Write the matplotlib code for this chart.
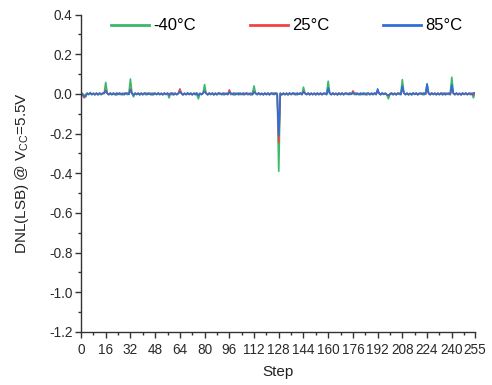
import matplotlib
matplotlib.use("Agg")
import matplotlib.pyplot as plt
import numpy as np
from matplotlib.ticker import MultipleLocator, FixedLocator

plt.rcParams['font.family'] = ['Liberation Sans', 'DejaVu Sans']

steps = list(range(256))

# DNL (LSB) at -40 C
dnl_m40 = [
    0.006, 0.002, -0.006, -0.004, 0.004, -0.003, 0.007, -0.005, 0.002, -0.004, 0.005, -0.006, 0.003, -0.004, 0.002, 0.003,
    0.058, 0.004, -0.005, 0.003, -0.004, 0.005, -0.002, -0.006, 0.004, -0.003, 0.002, -0.005, 0.004, 0.003, -0.004, 0.004,
    0.075, 0.003, -0.015, 0.004, -0.003, 0.002, -0.006, 0.005, -0.004, 0.003, -0.005, 0.004, -0.002, 0.003, -0.006, 0.004,
    0.003, -0.004, 0.005, -0.003, 0.002, -0.005, 0.004, -0.003, 0.003, -0.020, 0.002, 0.004, -0.005, 0.003, -0.004, 0.002,
    0.010, 0.003, -0.006, 0.004, -0.003, 0.005, -0.004, 0.002, -0.005, 0.003, 0.004, -0.004, -0.025, 0.003, -0.003, 0.004,
    0.047, 0.002, -0.005, 0.004, -0.003, 0.003, -0.006, 0.004, -0.004, 0.005, -0.003, 0.002, -0.005, 0.004, -0.002, 0.003,
    0.006, -0.004, 0.003, -0.006, 0.004, -0.003, 0.005, -0.004, 0.002, -0.005, 0.003, 0.004, -0.003, 0.002, -0.006, 0.004,
    0.040, 0.003, -0.004, 0.005, -0.003, 0.002, -0.005, 0.004, -0.004, 0.003, -0.006, 0.004, -0.003, 0.005, -0.002, 0.003,
    -0.390, 0.003, -0.005, 0.004, -0.003, 0.002, -0.006, 0.004, -0.003, 0.005, -0.004, 0.003, -0.005, 0.002, 0.004, -0.003,
    0.034, 0.002, -0.004, 0.003, -0.005, 0.004, -0.003, 0.002, -0.006, 0.004, -0.003, 0.005, -0.004, 0.003, -0.002, 0.004,
    0.064, 0.003, -0.005, 0.004, -0.003, 0.002, -0.006, 0.005, -0.004, 0.003, -0.005, 0.004, -0.002, 0.003, -0.004, 0.002,
    0.003, -0.004, 0.005, -0.003, 0.002, -0.005, 0.004, -0.004, 0.003, -0.006, 0.004, -0.003, 0.002, -0.005, 0.004, 0.003,
    0.015, 0.002, -0.005, 0.004, -0.003, 0.003, -0.006, -0.025, 0.002, 0.004, -0.004, 0.003, -0.005, 0.004, -0.003, 0.002,
    0.072, 0.004, -0.005, 0.003, -0.004, 0.002, -0.006, 0.004, -0.003, 0.005, -0.004, 0.003, -0.002, 0.004, -0.005, 0.003,
    0.050, 0.003, -0.004, 0.005, -0.003, 0.002, -0.005, 0.004, -0.003, 0.003, -0.006, 0.004, -0.004, 0.002, -0.003, 0.004,
    0.084, 0.004, -0.005, 0.003, -0.004, 0.002, -0.006, 0.004, -0.003, 0.005, -0.004, 0.003, -0.002, 0.004, -0.020, 0.005,
]

# DNL (LSB) at 25 C
dnl_25 = [
    0.003, -0.006, -0.020, -0.008, 0.003, -0.002, 0.004, -0.003, 0.002, -0.004, 0.003, -0.002, 0.004, -0.003, 0.002, 0.003,
    0.020, 0.002, -0.003, 0.004, -0.002, 0.003, -0.004, 0.002, -0.003, 0.004, -0.002, 0.003, -0.004, 0.002, 0.003, -0.002,
    0.025, 0.003, -0.004, 0.002, -0.003, 0.004, -0.002, 0.003, -0.004, 0.002, 0.003, -0.003, 0.004, -0.002, 0.003, -0.004,
    0.002, -0.003, 0.004, -0.002, 0.003, -0.004, 0.002, -0.003, 0.004, -0.002, 0.003, -0.004, 0.002, 0.003, -0.003, 0.002,
    0.025, 0.004, -0.003, 0.002, -0.004, 0.003, -0.002, 0.004, -0.003, 0.002, -0.004, 0.003, -0.006, 0.002, -0.003, 0.004,
    0.015, 0.003, -0.004, 0.002, -0.003, 0.004, -0.002, 0.003, -0.004, 0.002, 0.003, -0.003, 0.004, -0.002, 0.003, -0.004,
    0.020, 0.002, -0.003, 0.004, -0.002, 0.003, -0.004, 0.002, -0.003, 0.004, -0.002, 0.003, -0.004, 0.002, 0.003, -0.003,
    0.012, 0.004, -0.002, 0.003, -0.004, 0.002, -0.003, 0.004, -0.002, 0.003, -0.004, 0.002, 0.003, -0.003, 0.004, -0.002,
    -0.245, 0.003, -0.004, 0.002, -0.003, 0.004, -0.002, 0.003, -0.004, 0.002, 0.003, -0.003, 0.004, -0.002, 0.003, -0.004,
    0.012, 0.002, -0.003, 0.004, -0.002, 0.003, -0.004, 0.002, -0.003, 0.004, -0.002, 0.003, -0.004, 0.002, 0.003, -0.003,
    0.020, 0.004, -0.002, 0.003, -0.004, 0.002, -0.003, 0.004, -0.002, 0.003, -0.004, 0.002, 0.003, -0.003, 0.004, -0.002,
    0.015, 0.003, -0.004, 0.002, -0.003, 0.004, -0.002, 0.003, -0.004, 0.002, 0.003, -0.003, 0.004, -0.002, 0.003, -0.004,
    0.012, 0.002, -0.003, 0.004, -0.002, 0.003, -0.004, -0.008, -0.003, 0.004, -0.002, 0.003, -0.004, 0.002, 0.003, -0.003,
    0.030, 0.004, -0.002, 0.003, -0.004, 0.002, -0.003, 0.004, -0.002, 0.003, -0.004, 0.002, 0.003, -0.003, 0.004, -0.002,
    0.025, 0.003, -0.004, 0.002, -0.003, 0.004, -0.002, 0.003, -0.004, 0.002, 0.003, -0.003, 0.004, -0.002, 0.003, -0.004,
    0.030, 0.002, -0.003, 0.004, -0.002, 0.003, -0.004, 0.002, -0.003, 0.004, -0.002, 0.003, -0.004, 0.002, -0.006, 0.004,
]

# DNL (LSB) at 85 C
dnl_85 = [
    0.002, -0.004, -0.012, -0.015, 0.002, -0.003, 0.004, -0.002, 0.003, -0.004, 0.002, -0.003, 0.003, -0.002, 0.004, 0.002,
    0.015, 0.003, -0.002, 0.003, -0.004, 0.002, -0.003, 0.004, -0.002, 0.003, -0.004, 0.002, -0.003, 0.004, 0.002, -0.003,
    0.020, 0.002, -0.006, 0.003, -0.002, 0.003, -0.004, 0.002, -0.003, 0.004, 0.002, -0.003, 0.003, -0.004, 0.002, -0.003,
    0.003, -0.002, 0.003, -0.004, 0.002, -0.003, 0.004, -0.002, 0.003, -0.006, 0.002, 0.003, -0.004, 0.002, -0.003, 0.003,
    0.012, 0.003, -0.004, 0.002, -0.003, 0.004, -0.002, 0.003, -0.004, 0.002, -0.003, 0.004, -0.008, 0.002, -0.003, 0.003,
    0.012, 0.002, -0.003, 0.004, -0.002, 0.003, -0.004, 0.002, -0.003, 0.004, 0.002, -0.003, 0.003, -0.004, 0.002, -0.003,
    0.008, 0.003, -0.002, 0.003, -0.004, 0.002, -0.003, 0.004, -0.002, 0.003, -0.004, 0.002, 0.003, -0.003, 0.002, -0.004,
    0.010, 0.002, -0.003, 0.004, -0.002, 0.003, -0.004, 0.002, -0.003, 0.004, -0.002, 0.003, 0.002, -0.003, 0.004, -0.002,
    -0.210, 0.002, -0.003, 0.003, -0.004, 0.002, -0.003, 0.004, -0.002, 0.003, 0.002, -0.004, 0.003, -0.002, 0.004, -0.003,
    0.010, 0.003, -0.002, 0.003, -0.004, 0.002, -0.003, 0.004, -0.002, 0.003, -0.004, 0.002, -0.003, 0.003, 0.002, -0.004,
    0.030, 0.002, -0.003, 0.004, -0.002, 0.003, -0.004, 0.002, -0.003, 0.004, -0.002, 0.003, 0.002, -0.003, 0.004, -0.002,
    0.005, 0.003, -0.002, 0.003, -0.004, 0.002, -0.003, 0.004, -0.002, 0.003, 0.002, -0.004, 0.003, -0.002, 0.004, -0.003,
    0.025, 0.002, -0.003, 0.004, -0.002, 0.003, -0.004, -0.006, -0.002, 0.003, -0.004, 0.002, -0.003, 0.003, 0.002, -0.004,
    0.040, 0.003, -0.002, 0.003, -0.004, 0.002, -0.003, 0.004, -0.002, 0.003, -0.004, 0.002, 0.003, -0.003, 0.004, -0.002,
    0.050, 0.002, -0.003, 0.004, -0.002, 0.003, -0.004, 0.002, -0.003, 0.004, -0.002, 0.003, -0.004, 0.002, 0.003, -0.003,
    0.045, 0.003, -0.002, 0.003, -0.004, 0.002, -0.003, 0.004, -0.002, 0.003, -0.004, 0.002, 0.003, -0.003, 0.005, 0.004,
]

labels = ['-40\u00b0C', '25\u00b0C', '85\u00b0C']
colors = ['#3cb86a', '#f04444', '#2f6fd8']
xtick_vals = [0, 16, 32, 48, 64, 80, 96, 112, 128, 144, 160, 176, 192, 208, 224, 240, 255]
ytick_vals = [-1.2, -1.0, -0.8, -0.6, -0.4, -0.2, 0.0, 0.2, 0.4]

fig = plt.figure(figsize=(4.92, 3.85), dpi=100)
ax = fig.add_axes([0.1646, 0.1377, 0.9654 - 0.1646, 0.9623 - 0.1377])

lines = []
for data, lab, col in zip([dnl_m40, dnl_25, dnl_85], labels, colors):
    ln, = ax.plot(steps, data, color=col, lw=1.2, label=lab)
    lines.append(ln)

ax.set_xlim(0, 255)
ax.set_ylim(-1.2, 0.4)
ax.xaxis.set_major_locator(FixedLocator(xtick_vals))
ax.set_xticklabels([str(v) for v in xtick_vals])
ax.xaxis.set_minor_locator(FixedLocator(list(range(8, 255, 16))))
ax.yaxis.set_major_locator(FixedLocator(ytick_vals))
ax.set_yticklabels([f'{v:.1f}' for v in ytick_vals])
ax.yaxis.set_minor_locator(MultipleLocator(0.1))

for s in ['top', 'right']:
    ax.spines[s].set_visible(False)
for s in ['left', 'bottom']:
    ax.spines[s].set_color('#333333')
    ax.spines[s].set_linewidth(1.0)

ax.tick_params(axis='both', which='major', direction='out', length=4, width=1.0,
               color='#333333', labelsize=9.8, labelcolor='#2a2a2a')
ax.tick_params(axis='x', which='major', pad=4)
ax.tick_params(axis='y', which='major', pad=2)
ax.tick_params(axis='both', which='minor', direction='out', length=2, width=1.0, color='#333333')

ax.set_xlabel('Step', fontsize=11, color='#222222', labelpad=6)
ax.set_ylabel('DNL(LSB) @ V$_{\\mathregular{CC}}$=5.5V', fontsize=11, color='#222222')
ax.yaxis.set_label_coords(-0.128, 0.5)

leg = ax.legend(handles=lines, loc='center', ncol=3, frameon=False,
                fontsize=12, handlelength=2.3, handletextpad=0.25, columnspacing=3.2,
                bbox_to_anchor=(0.522, 0.964), borderaxespad=0.0, borderpad=0.0)
for h in leg.legend_handles:
    h.set_linewidth(2.0)

fig.savefig('out.png', dpi=100)
